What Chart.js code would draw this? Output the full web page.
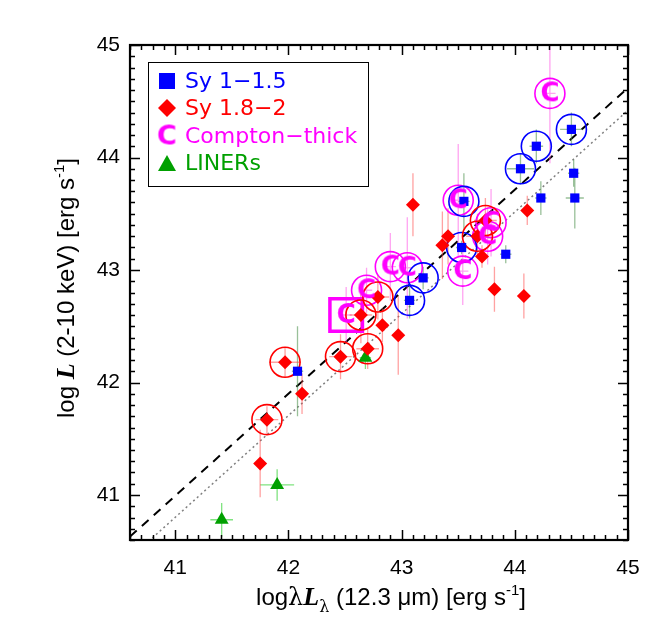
<!DOCTYPE html>
<html>
<head>
<meta charset="utf-8">
<script src="https://cdn.jsdelivr.net/npm/chart.js@4/dist/chart.umd.min.js"></script>
<style>
  body { margin: 0; background: #fff; }
  #wrap { width: 669px; height: 627px; }
</style>
</head>
<body>
<div id="wrap"><canvas id="lxChart" width="669" height="627"></canvas></div>
<script>
// axis ticks
const tickVals = [41, 42, 43, 44, 45];

// Sy 1-1.5 (blue squares)
const sy1X = [44.50, 44.19, 44.05, 44.52, 44.23, 44.53, 43.55, 43.53, 43.92, 43.19, 43.07, 42.08];
const sy1Y = [44.25, 44.10, 43.90, 43.86, 43.64, 43.64, 43.61, 43.20, 43.14, 42.93, 42.73, 42.10];
const sy1YErr = [0.15, 0.15, 0.14, 0.12, 0.15, 0.27, 0.25, 0.06, 0.08, 0.10, 0.16, 0.40];
const sy1XErr = [0.10, 0.06, 0.12, 0.05, 0.05, 0.08, 0.05, 0.05, 0.05, 0.05, 0.05, 0.05];
const sy1Circled = [1, 1, 1, 0, 0, 0, 1, 1, 0, 1, 1, 0];

// Sy 1.8-2 (red diamonds)
const sy2X = [44.11, 43.10, 43.41, 43.36, 43.71, 43.82, 44.08, 42.97, 42.83, 43.74, 43.67, 42.79, 42.64, 42.70, 42.46, 41.97, 42.12, 41.81, 41.75];
const sy2Y = [43.53, 43.58, 43.30, 43.22, 43.12, 42.83, 42.77, 42.42, 42.51, 43.44, 43.30, 42.76, 42.60, 42.30, 42.23, 42.18, 41.90, 41.67, 41.28];
const sy2YErr = [0.13, 0.28, 0.25, 0.30, 0.10, 0.20, 0.20, 0.35, 0.15, 0.20, 0.20, 0.20, 0.25, 0.18, 0.20, 0.13, 0.18, 0.12, 0.30];
const sy2XErr = [0.05, 0.05, 0.05, 0.05, 0.05, 0.05, 0.05, 0.05, 0.05, 0.10, 0.10, 0.10, 0.10, 0.10, 0.10, 0.14, 0.05, 0.10, 0.05];
const sy2Circled = [0, 0, 0, 0, 0, 0, 0, 0, 0, 1, 1, 1, 1, 1, 1, 1, 0, 1, 0];

// Compton-thick (magenta C)
const ctX = [44.31, 43.50, 43.79, 43.76, 43.54, 42.90, 43.05, 42.69, 42.51];
const ctY = [44.57, 43.62, 43.42, 43.30, 42.99, 43.03, 43.02, 42.82, 42.60];
const ctYErr = [0.62, 0.50, 0.30, 0.25, 0.30, 0.30, 0.45, 0.20, 0.25];
const ctXErr = [0.05, 0.05, 0.05, 0.05, 0.05, 0.05, 0.05, 0.05, 0.05];
const ctBoxed = [0, 0, 0, 0, 0, 0, 0, 0, 1];

// LINERs (green triangles)
const linX = [42.68, 41.90, 41.41];
const linY = [42.22, 41.09, 40.78];
const linYErr = [0.10, 0.14, 0.15];
const linXErr = [0.05, 0.15, 0.10];

// fitted relations
const fitX = [40.6, 45.0];
const dashedY = [40.63, 44.62];
const dottedY = [40.44, 44.42];

const BLUE = '#0000ff', RED = '#ff0000', MAGENTA = '#ff00ff', GREEN = '#00a000';

function pts(xs, ys, mask, want) {
  return xs.map((x, i) => ({ x: x, y: ys[i] })).filter((p, i) => !mask || mask[i] === want);
}

function errSegs(xs, ys, xe, ye) {
  const out = [];
  xs.forEach((x, i) => {
    out.push({ x: x, y: ys[i] - ye[i] }, { x: x, y: ys[i] + ye[i] }, { x: x, y: null });
    out.push({ x: x - xe[i], y: ys[i] }, { x: x + xe[i], y: ys[i] }, { x: x, y: null });
  });
  return out;
}

// "C" glyph used as point style
function makeC(size) {
  const c = document.createElement('canvas');
  c.width = size + 4; c.height = size + 6;
  const g = c.getContext('2d');
  g.fillStyle = MAGENTA;
  g.font = 'bold ' + size + 'px "DejaVu Sans"';
  g.textAlign = 'center';
  g.textBaseline = 'middle';
  g.fillText('C', c.width / 2, c.height / 2 + 1);
  return c;
}
const cGlyph = makeC(26);
const cGlyphLegend = makeC(27);

function errSet(data, color) {
  return { data: data, showLine: true, spanGaps: false, borderColor: color, borderWidth: 1.3,
           pointRadius: 0, order: 8 };
}
function ringSet(data, color) {
  return { data: data, pointStyle: 'circle', pointRadius: 15, backgroundColor: 'rgba(0,0,0,0)',
           borderColor: color, borderWidth: 1.6, order: 5 };
}

const frame = {
  id: 'frame',
  afterDatasetsDraw(chart) {
    const ctx = chart.ctx, a = chart.chartArea;
    const xs = chart.scales.x, ys = chart.scales.y;
    ctx.save();
    ctx.strokeStyle = '#000';
    ctx.lineWidth = 1.5;
    ctx.beginPath();
    for (let k = 406; k <= 450; k++) {
      const len = k % 10 === 0 ? 10 : 5;
      const px = Math.round(xs.getPixelForValue(k / 10)) + 0.5;
      const py = Math.round(ys.getPixelForValue(k / 10)) + 0.5;
      ctx.moveTo(px, a.bottom); ctx.lineTo(px, a.bottom - len);
      ctx.moveTo(px, a.top); ctx.lineTo(px, a.top + len);
      ctx.moveTo(a.left, py); ctx.lineTo(a.left + len, py);
      ctx.moveTo(a.right, py); ctx.lineTo(a.right - len, py);
    }
    ctx.stroke();
    ctx.lineWidth = 2.2;
    ctx.strokeRect(a.left, a.top, a.right - a.left, a.bottom - a.top);

    // legend box
    ctx.lineWidth = 1;
    ctx.strokeRect(148.5, 62.5, 220, 124);
    const rows = [
      { label: 'Sy 1\u22121.5', color: BLUE, y: 81 },
      { label: 'Sy 1.8\u22122', color: RED, y: 108 },
      { label: 'Compton\u2212thick', color: MAGENTA, y: 136 },
      { label: 'LINERs', color: GREEN, y: 163 }
    ];
    ctx.font = '22px "DejaVu Sans"';
    ctx.textBaseline = 'middle';
    ctx.textAlign = 'left';
    rows.forEach(r => {
      ctx.fillStyle = r.color;
      ctx.fillText(r.label, 185, r.y + 1);
    });
    ctx.fillStyle = BLUE;
    ctx.fillRect(159, 73, 16, 16);
    ctx.fillStyle = RED;
    ctx.beginPath();
    ctx.moveTo(167, 99); ctx.lineTo(176, 108); ctx.lineTo(167, 117); ctx.lineTo(158, 108);
    ctx.closePath(); ctx.fill();
    ctx.drawImage(cGlyphLegend, 167 - cGlyphLegend.width / 2, 136 - cGlyphLegend.height / 2);
    ctx.fillStyle = GREEN;
    ctx.beginPath();
    ctx.moveTo(167, 155); ctx.lineTo(176, 171); ctx.lineTo(158, 171);
    ctx.closePath(); ctx.fill();
    ctx.restore();
  },
  afterDraw(chart) {
    const ctx = chart.ctx;
    const sans = '"Liberation Sans"';
    const xTitle = [
      { t: 'log', f: '24px ' + sans },
      { t: '\u03bb', f: '24px "DejaVu Serif"' },
      { t: 'L', f: 'bold italic 26px "Liberation Serif"' },
      { t: '\u03bb', f: '16px "DejaVu Serif"', dy: 7 },
      { t: ' (12.3 \u03bcm) [erg s', f: '24px ' + sans },
      { t: '-1', f: '15px ' + sans, dy: -10 },
      { t: ']', f: '24px ' + sans }
    ];
    const yTitle = [
      { t: 'log ', f: '24px ' + sans },
      { t: 'L', f: 'bold italic 26px "Liberation Serif"' },
      { t: ' (2-10 keV) [erg s', f: '24px ' + sans },
      { t: '-1', f: '15px ' + sans, dy: -10 },
      { t: ']', f: '24px ' + sans }
    ];
    drawRich(ctx, xTitle, 391, 605, 0);
    drawRich(ctx, yTitle, 74, 288, -Math.PI / 2);
  }
};

function drawRich(ctx, parts, cx, cy, rot) {
  ctx.save();
  ctx.translate(cx, cy);
  ctx.rotate(rot);
  ctx.fillStyle = '#000';
  ctx.textBaseline = 'alphabetic';
  ctx.textAlign = 'left';
  let w = 0;
  parts.forEach(p => { ctx.font = p.f; p.w = ctx.measureText(p.t).width; w += p.w; });
  let x = -w / 2;
  parts.forEach(p => { ctx.font = p.f; ctx.fillText(p.t, x, p.dy || 0); x += p.w; });
  ctx.restore();
}

const tickFont = { family: 'Liberation Sans', size: 21 };

new Chart(document.getElementById('lxChart'), {
  type: 'scatter',
  data: {
    datasets: [
      { data: fitX.map((x, i) => ({ x: x, y: dashedY[i] })), showLine: true, borderColor: '#000',
        borderWidth: 2, borderDash: [9, 7], pointRadius: 0, order: 10 },
      { data: fitX.map((x, i) => ({ x: x, y: dottedY[i] })), showLine: true, borderColor: '#808080',
        borderWidth: 1.5, borderDash: [2, 3], pointRadius: 0, order: 10 },
      errSet(errSegs(sy2X, sy2Y, sy2XErr, sy2YErr), 'rgba(255,70,70,0.5)'),
      errSet(errSegs(ctX, ctY, ctXErr, ctYErr), 'rgba(255,90,230,0.55)'),
      errSet(errSegs(sy1X, sy1Y, sy1XErr, sy1YErr), 'rgba(70,140,70,0.55)'),
      errSet(errSegs(linX, linY, linXErr, linYErr), 'rgba(0,200,0,0.5)'),
      ringSet(pts(sy2X, sy2Y, sy2Circled, 1), RED),
      ringSet(pts(sy1X, sy1Y, sy1Circled, 1), BLUE),
      ringSet(pts(ctX, ctY, ctBoxed, 0), MAGENTA),
      { data: pts(ctX, ctY, ctBoxed, 1), pointStyle: 'rect', pointRadius: 23, backgroundColor: 'rgba(0,0,0,0)',
        borderColor: MAGENTA, borderWidth: 3.5, order: 5 },
      { label: 'Sy 1.8-2', data: pts(sy2X, sy2Y), pointStyle: 'rectRot', pointRadius: 7,
        backgroundColor: RED, borderColor: RED, borderWidth: 0, order: 3 },
      { label: 'Sy 1-1.5', data: pts(sy1X, sy1Y), pointStyle: 'rect', pointRadius: 6.5,
        backgroundColor: BLUE, borderColor: BLUE, borderWidth: 0, order: 3 },
      { label: 'LINERs', data: pts(linX, linY), pointStyle: 'triangle', pointRadius: 8,
        backgroundColor: GREEN, borderColor: GREEN, borderWidth: 0, order: 3 },
      { label: 'Compton-thick', data: pts(ctX, ctY), pointStyle: cGlyph, order: 1 }
    ]
  },
  options: {
    responsive: false,
    animation: false,
    events: [],
    layout: { padding: { top: 45, right: 41, left: 0, bottom: 0 } },
    plugins: { legend: { display: false }, tooltip: { enabled: false } },
    scales: {
      x: {
        type: 'linear', min: 40.6, max: 45,
        afterBuildTicks: s => { s.ticks = tickVals.map(v => ({ value: v })); },
        afterFit: s => { s.height = 87; },
        grid: { display: false, drawTicks: false },
        border: { display: false },
        ticks: { font: tickFont, color: '#000', padding: 16, maxRotation: 0 }
      },
      y: {
        type: 'linear', min: 40.6, max: 45,
        afterBuildTicks: s => { s.ticks = tickVals.map(v => ({ value: v })); },
        afterFit: s => { s.width = 130; },
        grid: { display: false, drawTicks: false },
        border: { display: false },
        ticks: { font: tickFont, color: '#000', padding: 10 }
      }
    }
  },
  plugins: [frame]
});
</script>
</body>
</html>
